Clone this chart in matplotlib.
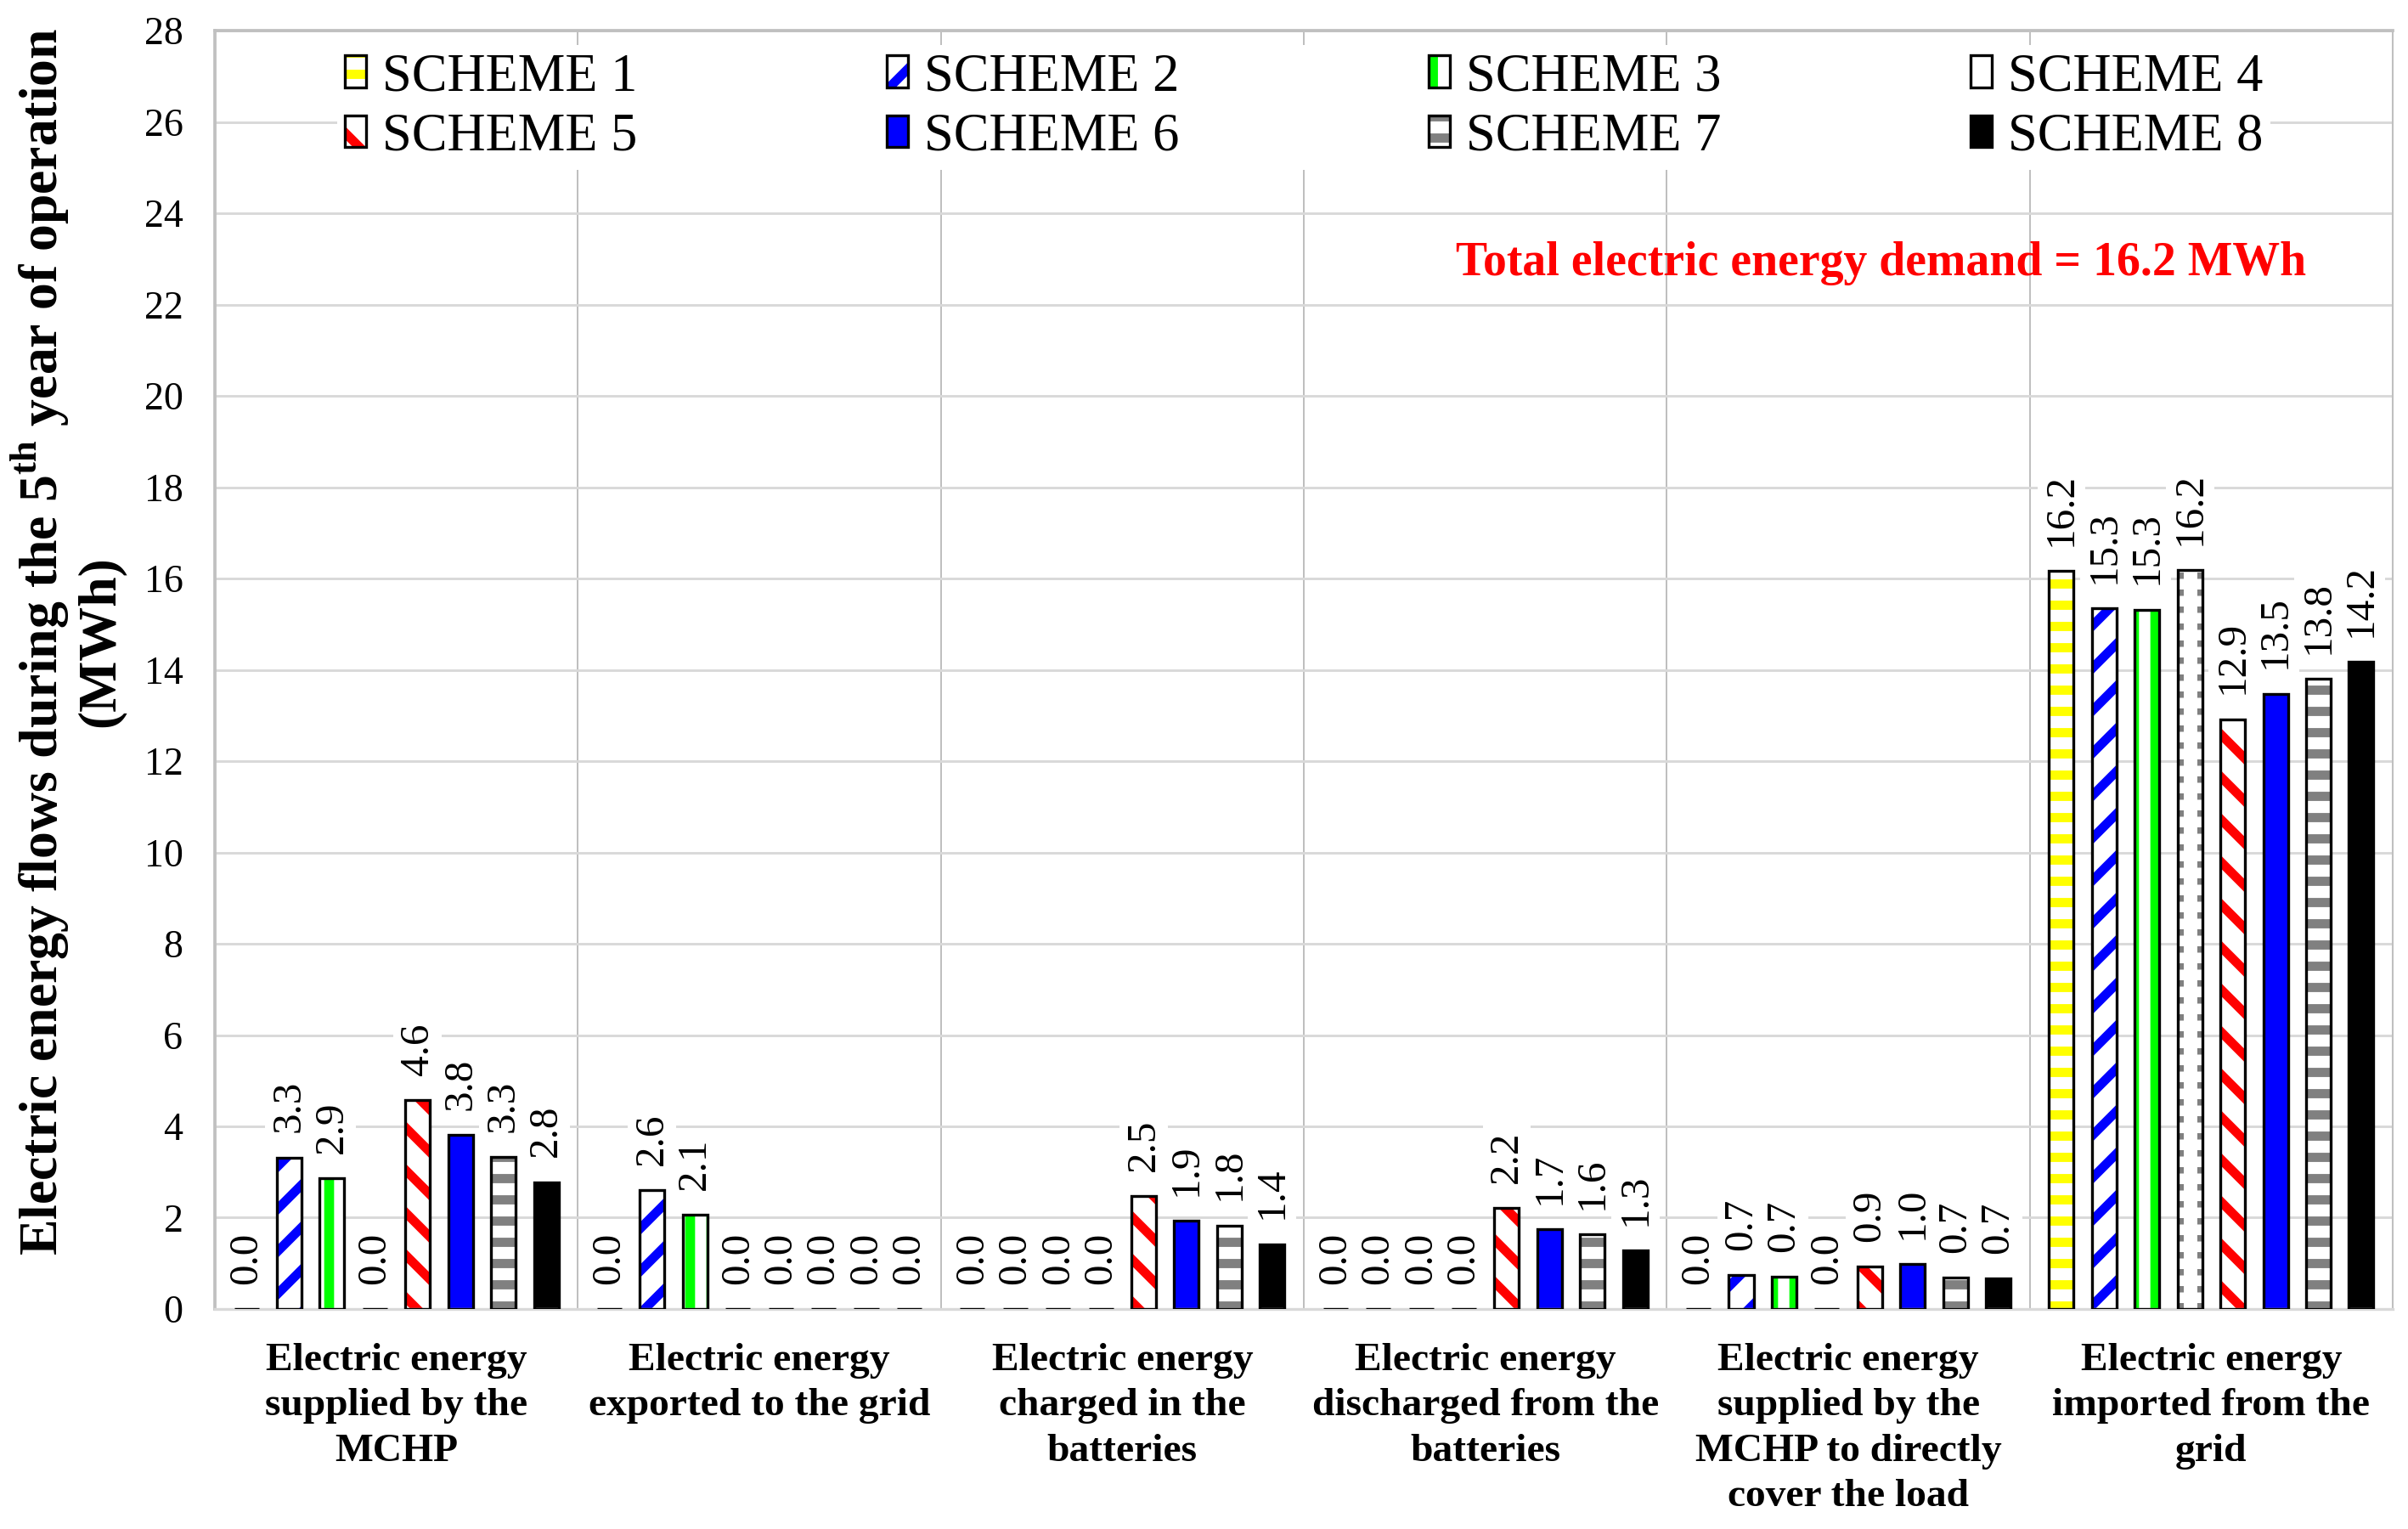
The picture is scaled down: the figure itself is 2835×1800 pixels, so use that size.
"""
Electric energy flows during the 5th year of operation, 8 schemes
"""

import matplotlib
matplotlib.use('Agg')
import matplotlib.pyplot as plt
import numpy as np

#---------------------------------------------------------------------------------------------------
# Data
#---------------------------------------------------------------------------------------------------

categories = ['Electric energy\nsupplied by the\nMCHP',
              'Electric energy\nexported to the grid',
              'Electric energy\ncharged in the\nbatteries',
              'Electric energy\ndischarged from the\nbatteries',
              'Electric energy\nsupplied by the\nMCHP to directly\ncover the load',
              'Electric energy\nimported from the\ngrid']

schemes = ['SCHEME 1', 'SCHEME 2', 'SCHEME 3', 'SCHEME 4',
           'SCHEME 5', 'SCHEME 6', 'SCHEME 7', 'SCHEME 8']

# one list per scheme, values for the 6 categories (MWh)
scheme1 = [0.0, 0.0, 0.0, 0.0, 0.0, 16.16]
scheme2 = [3.32, 2.60, 0.0, 0.0, 0.74, 15.35]
scheme3 = [2.87, 2.06, 0.0, 0.0, 0.71, 15.32]
scheme4 = [0.0, 0.0, 0.0, 0.0, 0.0, 16.18]
scheme5 = [4.57, 0.0, 2.47, 2.22, 0.93, 12.92]
scheme6 = [3.81, 0.0, 1.94, 1.74, 0.98, 13.48]
scheme7 = [3.33, 0.0, 1.83, 1.63, 0.68, 13.80]
scheme8 = [2.78, 0.0, 1.42, 1.28, 0.67, 14.17]
values = [scheme1, scheme2, scheme3, scheme4, scheme5, scheme6, scheme7, scheme8]

yticks = list(range(0, 29, 2))
note = 'Total electric energy demand = 16.2 MWh'

# style per scheme: (face, hatch colour, hatch, hatch linewidth)
styles = [('white', '#ffff00', '--', 2.6),
          ('white', '#0000ff', '//', 2.6),
          ('white', '#00ff00', '||', 2.8),
          ('white', None, None, 0),
          ('white', '#ff0000', '\\\\', 2.6),
          ('#0000ff', None, None, 0),
          ('white', '#808080', '--', 2.6),
          ('black', None, None, 0)]

#---------------------------------------------------------------------------------------------------
# Plot
#---------------------------------------------------------------------------------------------------

plt.rcParams['font.family'] = ['Liberation Serif', 'DejaVu Serif']
plt.rcParams['mathtext.fontset'] = 'custom'
plt.rcParams['mathtext.rm'] = 'Liberation Serif'
plt.rcParams['mathtext.bf'] = 'Liberation Serif:bold'
plt.rcParams['hatch.linewidth'] = 2.6

fig = plt.figure(figsize=(9.45, 6), dpi=300)
ax = fig.add_axes([0.0892, 0.1439, 0.9045, 0.836])

x = np.arange(len(categories))
slot = 0.118
width = 0.068
handles = []
for k, (vals, (face, hcol, hatch, hlw)) in enumerate(zip(values, styles)):
    xpos = x + (k - 3.5) * slot
    parts = []
    if hatch is not None:
        with plt.rc_context({'hatch.linewidth': hlw}):
            hb = ax.bar(xpos, vals, width, color=face, edgecolor=hcol, hatch=hatch,
                        linewidth=0, zorder=2)
        for p in hb:
            if hasattr(p, 'set_hatch_linewidth'):
                p.set_hatch_linewidth(hlw)
        parts.append(hb[0])
    else:
        fb = ax.bar(xpos, vals, width, color=face, linewidth=0, zorder=2)
        parts.append(fb[0])
    if k == 3:
        # dotted gray lines inside the scheme 4 bars
        for xp, v in zip(xpos, vals):
            if v > 0:
                ax.vlines([xp - width * 0.36, xp + width * 0.36], 0, v, colors='#808080',
                          linestyles=(0, (1.5, 2.5)), linewidth=1.2, zorder=3)
    ob = ax.bar(xpos, vals, width, fill=False, edgecolor='black', linewidth=0.8, zorder=4)
    parts.append(ob[0])
    handles.append(tuple(parts))

    for xp, v in zip(xpos, vals):
        ax.annotate('%.1f' % v, xy=(xp, v), xytext=(0, 7), textcoords='offset points',
                    rotation=90, ha='center', va='bottom', fontsize=11.8, zorder=5,
                    bbox=dict(facecolor='white', edgecolor='none', pad=1.5))

ax.set_xlim(-0.5, 5.5)
ax.set_ylim(0, 28)
ax.set_yticks(yticks)
ax.set_xticks(x)
ax.set_xticklabels(categories, fontsize=11.4, fontweight='bold', linespacing=1.36)
ax.tick_params(axis='x', length=0, pad=9.5)
ax.tick_params(axis='y', length=0, pad=9, labelsize=11)

ax.set_axisbelow(True)
ax.grid(axis='y', color='#d9d9d9', linewidth=0.7)
for xb in np.arange(0.5, 5.5, 1.0):
    ax.axvline(xb, color='#b3b3b3', linewidth=0.4, zorder=0)

for side in ['left', 'top']:
    ax.spines[side].set_color('#c0c0c0')
    ax.spines[side].set_linewidth(0.9)
ax.spines['right'].set_color('#c0c0c0')
ax.spines['right'].set_linewidth(0.5)
ax.spines['bottom'].set_color('#d9d9d9')
ax.spines['bottom'].set_linewidth(0.8)

ax.set_ylabel(r'Electric energy flows during the 5$^{\mathbf{th}}$ year of operation' + '\n(MWh)',
              fontsize=15.3, fontweight='bold', linespacing=1.12)
ax.yaxis.set_label_coords(-0.041, 0.522)

ax.text(4.09, 22.9, note, color='#ff0000', fontsize=13.4, fontweight='bold',
        ha='center', va='center')

# legend filled row by row: 1 2 3 4 / 5 6 7 8
order = [0, 4, 1, 5, 2, 6, 3, 7]
leg = ax.legend([handles[i] for i in order], [schemes[i] for i in order], ncol=4,
                loc='upper center', bbox_to_anchor=(0.5, 0.989), borderaxespad=0,
                fontsize=15, frameon=True, fancybox=False, edgecolor='none', framealpha=1,
                handlelength=0.4, handleheight=0.55, handletextpad=0.3, columnspacing=4.7,
                labelspacing=0.2, borderpad=0.15)
leg.set_zorder(6)

plt.savefig('out.png', dpi=300)
